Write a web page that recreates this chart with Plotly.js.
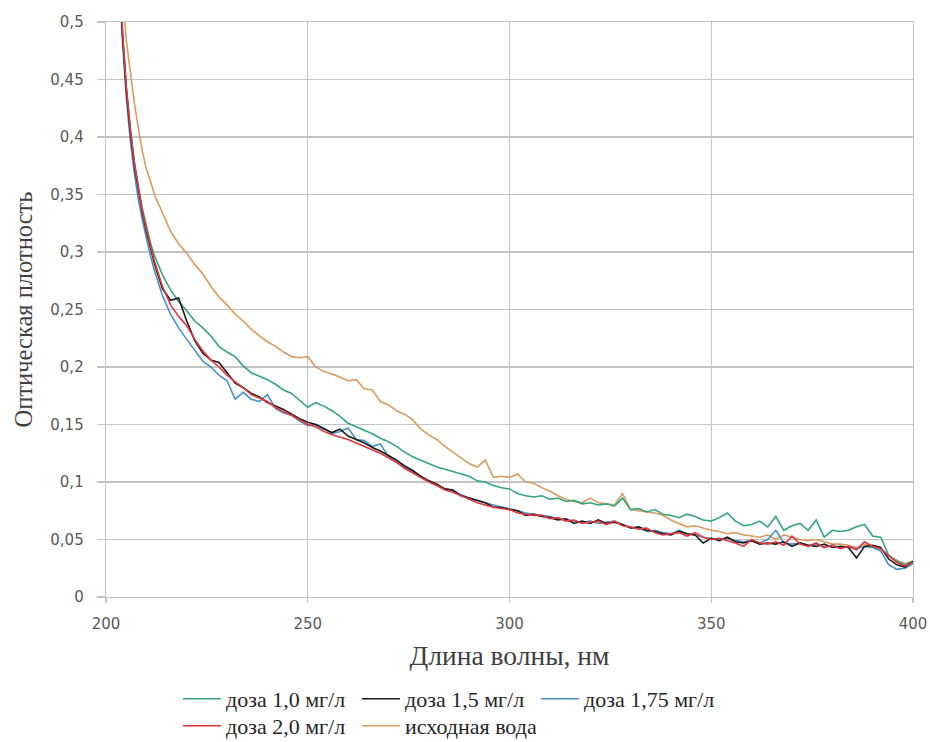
<!DOCTYPE html>
<html>
<head>
<meta charset="utf-8">
<script src="https://cdn.plot.ly/plotly-3.0.1.min.js"></script>
<style>html,body{margin:0;padding:0;background:#fff;}#chart{width:930px;height:742px;}</style>
</head>
<body>
<div id="chart"></div>
<script>
const wavelength = [203,204,205,206,207,208,209,210,211,212,214,216,218,220,222,224,226,228,230,232,234,236,238,240,242,244,246,248,250,252,254,256,258,260,262,264,266,268,270,272,274,276,278,280,282,284,286,288,290,292,294,296,298,300,302,304,306,308,310,312,314,316,318,320,322,324,326,328,330,332,334,336,338,340,342,344,346,348,350,352,354,356,358,360,362,364,366,368,370,372,374,376,378,380,382,384,386,388,390,392,394,396,398,400];

const dose10 = [0.562,0.496,0.444,0.408,0.379,0.356,0.338,0.322,0.308,0.297,
0.280,0.267,0.257,0.249,0.240,0.234,0.227,0.218,0.213,0.209,
0.201,0.195,0.192,0.189,0.185,0.180,0.177,0.171,0.165,0.169,
0.166,0.162,0.157,0.151,0.148,0.145,0.142,0.138,0.135,0.131,
0.126,0.122,0.119,0.116,0.113,0.111,0.109,0.107,0.105,0.101,
0.100,0.097,0.095,0.094,0.090,0.088,0.087,0.088,0.085,0.086,
0.083,0.084,0.081,0.082,0.080,0.081,0.079,0.086,0.076,0.077,
0.074,0.076,0.072,0.071,0.069,0.072,0.070,0.067,0.066,0.069,
0.073,0.066,0.062,0.063,0.066,0.061,0.070,0.058,0.062,0.064,
0.058,0.067,0.052,0.058,0.057,0.058,0.061,0.063,0.053,0.052,
0.036,0.031,0.028,0.031];

const dose15 = [0.560,0.493,0.442,0.405,0.376,0.353,0.334,0.318,0.303,0.290,
0.268,0.258,0.260,0.240,0.223,0.212,0.206,0.204,0.195,0.186,
0.182,0.177,0.174,0.169,0.166,0.163,0.159,0.155,0.152,0.150,
0.146,0.143,0.146,0.140,0.137,0.134,0.130,0.127,0.123,0.119,
0.114,0.110,0.105,0.101,0.098,0.094,0.093,0.088,0.086,0.084,
0.082,0.078,0.078,0.076,0.075,0.071,0.072,0.070,0.069,0.067,
0.068,0.064,0.066,0.064,0.067,0.064,0.065,0.063,0.060,0.061,
0.058,0.057,0.055,0.054,0.057,0.055,0.054,0.047,0.051,0.049,
0.052,0.048,0.047,0.049,0.046,0.047,0.046,0.048,0.044,0.047,
0.045,0.044,0.046,0.043,0.044,0.043,0.034,0.044,0.045,0.043,
0.033,0.028,0.026,0.031];

const dose175 = [0.555,0.488,0.436,0.398,0.369,0.346,0.328,0.311,0.297,0.284,
0.262,0.246,0.234,0.224,0.214,0.205,0.200,0.193,0.188,0.172,
0.178,0.172,0.170,0.176,0.164,0.160,0.158,0.153,0.149,0.150,
0.147,0.142,0.144,0.147,0.137,0.136,0.131,0.133,0.122,0.119,
0.113,0.109,0.104,0.101,0.097,0.094,0.092,0.089,0.086,0.084,
0.082,0.080,0.078,0.077,0.075,0.073,0.072,0.071,0.070,0.068,
0.067,0.066,0.065,0.066,0.064,0.065,0.066,0.063,0.060,0.060,
0.057,0.058,0.056,0.055,0.058,0.055,0.054,0.052,0.051,0.050,
0.051,0.049,0.048,0.049,0.047,0.050,0.058,0.047,0.046,0.047,
0.045,0.046,0.044,0.045,0.043,0.044,0.042,0.044,0.043,0.040,
0.028,0.024,0.025,0.029];

const dose20 = [0.565,0.497,0.445,0.408,0.378,0.355,0.336,0.320,0.305,0.292,
0.270,0.254,0.244,0.236,0.224,0.214,0.206,0.200,0.193,0.187,
0.182,0.176,0.173,0.170,0.165,0.161,0.158,0.154,0.150,0.148,
0.144,0.141,0.139,0.137,0.134,0.131,0.128,0.125,0.121,0.117,
0.112,0.108,0.104,0.100,0.097,0.093,0.091,0.088,0.085,0.082,
0.080,0.078,0.077,0.076,0.073,0.072,0.071,0.071,0.068,0.069,
0.066,0.067,0.064,0.065,0.066,0.063,0.066,0.062,0.061,0.059,
0.060,0.056,0.054,0.055,0.056,0.053,0.056,0.052,0.050,0.051,
0.049,0.047,0.044,0.050,0.047,0.046,0.048,0.045,0.053,0.046,
0.044,0.047,0.043,0.045,0.042,0.044,0.041,0.048,0.044,0.042,
0.036,0.030,0.027,0.030];

const rawWater = [0.600,0.530,0.485,0.455,0.430,0.408,0.388,0.372,0.362,0.350,
0.334,0.318,0.307,0.299,0.289,0.281,0.270,0.261,0.254,0.246,
0.240,0.233,0.227,0.222,0.218,0.213,0.209,0.208,0.209,0.200,
0.196,0.194,0.191,0.188,0.189,0.181,0.180,0.170,0.167,0.162,
0.159,0.154,0.146,0.141,0.137,0.131,0.126,0.121,0.116,0.113,
0.119,0.104,0.105,0.104,0.107,0.100,0.099,0.095,0.092,0.088,
0.085,0.083,0.082,0.086,0.082,0.081,0.080,0.090,0.076,0.075,
0.074,0.073,0.071,0.067,0.064,0.061,0.062,0.060,0.058,0.057,
0.055,0.056,0.054,0.053,0.052,0.054,0.050,0.054,0.052,0.050,
0.049,0.050,0.048,0.046,0.046,0.045,0.043,0.046,0.044,0.042,
0.036,0.032,0.029,0.031];

const seriesNames = ['доза 1,0 мг/л','доза 1,5 мг/л','доза 1,75 мг/л','доза 2,0 мг/л','исходная вода'];
const xTitle = 'Длина волны, нм';
const yTitle = 'Оптическая плотность';

const colors = ['#33a67a','#1a1a1a','#4a90c8','#e3363d','#dc9b5e'];
const seriesData = [dose10, dose15, dose175, dose20, rawWater];
const legendIds = ['legend','legend','legend','legend2','legend2'];
const drawOrder = [4,0,2,1,3];

const traces = drawOrder.map(i => ({
  type:'scatter', mode:'lines', name: seriesNames[i],
  x: wavelength, y: seriesData[i],
  line:{color: colors[i], width:1.6},
  legend: legendIds[i], legendrank: i+1,
  hoverinfo:'skip'
}));

const SERIF = '"Liberation Serif", "Times New Roman", serif';
const SANS = '"DejaVu Sans", sans-serif';
const grid = '#c4c4c4';
const legendCommon = {
  orientation:'h', xanchor:'left', yanchor:'middle',
  font:{family:SERIF, size:22, color:'#262626'},
  itemwidth:38,
  entrywidth:126, entrywidthmode:'pixels', bgcolor:'rgba(0,0,0,0)', borderwidth:0,
  traceorder:'normal'
};

const layout = {
  width:930, height:742,
  margin:{l:106, r:17, t:22, b:145, autoexpand:false},
  paper_bgcolor:'#ffffff', plot_bgcolor:'#ffffff',
  separators:', ',
  showlegend:true,
  xaxis:{
    range:[200,400], tick0:200, dtick:50, showgrid:true, gridcolor:grid, gridwidth:1.3,
    showline:true, linecolor:grid, linewidth:1.3, mirror:true, zeroline:false,
    ticks:'outside', ticklen:5, tickcolor:grid, tickwidth:1.3,
    tickfont:{family:SANS, size:15, color:'#595959'}, ticklabelstandoff:8,
    title:{text:xTitle, font:{family:SERIF, size:27.5, color:'#404040'}, standoff:13}
  },
  yaxis:{
    range:[0,0.5], tick0:0, dtick:0.05, showgrid:true, gridcolor:grid, gridwidth:1.3,
    showline:true, linecolor:grid, linewidth:1.3, mirror:true, zeroline:false,
    ticks:'outside', ticklen:8, tickcolor:grid, tickwidth:1.3,
    tickfont:{family:SANS, size:15, color:'#595959'}, ticklabelstandoff:10,
    title:{text:yTitle, font:{family:SERIF, size:24.5, color:'#404040'}, standoff:10}
  },
  legend: Object.assign({}, legendCommon, {x:(178-106)/807, y:(597-699)/575}),
  legend2: Object.assign({}, legendCommon, {x:(178-106)/807, y:(597-726)/575})
};

Plotly.newPlot('chart', traces, layout, {displayModeBar:false, staticPlot:true});
</script>
</body>
</html>
